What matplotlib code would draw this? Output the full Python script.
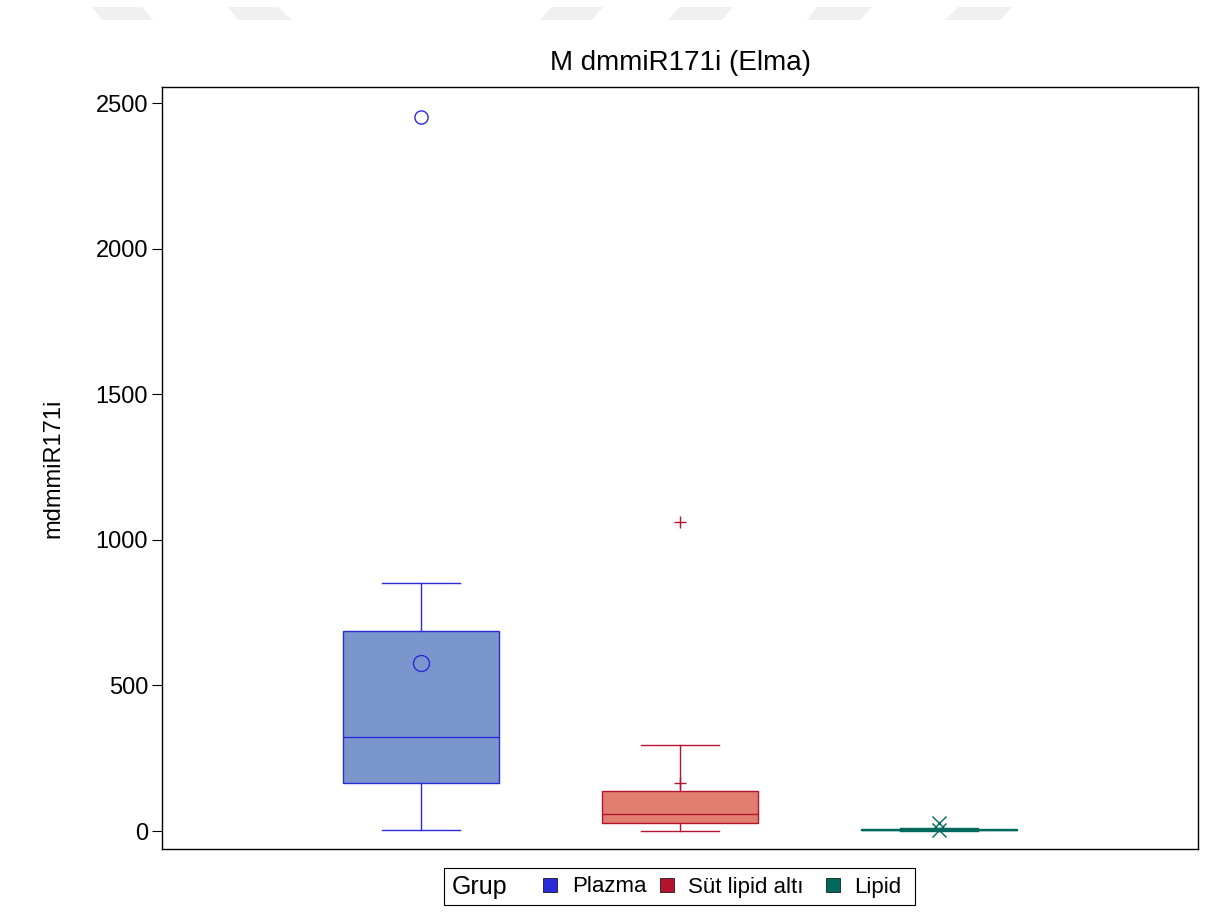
import matplotlib
matplotlib.use("Agg")
import matplotlib.pyplot as plt
from matplotlib.patches import Rectangle, Polygon

plt.rcParams['font.family'] = ['Liberation Sans Narrow', 'Liberation Sans', 'DejaVu Sans']

# Group summary statistics (box plot components)
groups = ["Plazma", "Süt lipid altı", "Lipid"]
q1 = [165, 27, 2]
median = [323, 58, 4]
q3 = [687, 137, 8]
whisker_low = [3, 0, 0]
whisker_high = [852, 295, 10]
means = [577, 165, 3]
outliers = [[2452], [1061], [26]]

edge_colors = ["#2B2BD9", "#B5142E", "#00695E"]
fill_colors = ["#7B96CC", "#E07F70", "#5FA89A"]
mean_markers = ["o", "+", "x"]

title_text = "M dmmiR171i (Elma)"
y_label = "mdmmiR171i"
y_ticks = [0, 500, 1000, 1500, 2000, 2500]
legend_title = "Grup"

fig = plt.figure(figsize=(12.19, 9.24), dpi=100)
W, H = 1219, 924

# faint watermark bands along the top edge
bands = [
    [(92, 7), (142, 7), (153, 20), (102, 20)],
    [(228, 7), (278, 7), (292, 20), (238, 20)],
    [(552, 7), (603, 7), (592, 20), (540, 20)],
    [(680, 7), (733, 7), (722, 20), (668, 20)],
    [(817, 7), (872, 7), (860, 20), (807, 20)],
    [(958, 7), (1012, 7), (1000, 20), (945, 20)],
]
for b in bands:
    fig.patches.append(Polygon([(x / W, 1 - y / H) for x, y in b], closed=True,
                               transform=fig.transFigure, facecolor="#F0F0F0",
                               edgecolor="none", zorder=0))

ax = fig.add_axes([162 / W, 1 - 849 / H, 1036 / W, 762 / H])

positions = [1, 2, 3]
for i, g in enumerate(groups):
    stats = [dict(label=g, q1=q1[i], med=median[i], q3=q3[i],
                  whislo=whisker_low[i], whishi=whisker_high[i],
                  mean=means[i], fliers=outliers[i])]
    ec = edge_colors[i]
    ms_mean = {"o": 11.5, "+": 9, "x": 10}[mean_markers[i]]
    ms_fl = {"o": 9.5, "+": 9, "x": 10}[mean_markers[i]]
    ax.bxp(stats, positions=[positions[i]], widths=0.6, patch_artist=True,
           showmeans=True, showcaps=True, showfliers=True,
           boxprops=dict(facecolor=fill_colors[i], edgecolor=ec, linewidth=1.0),
           medianprops=dict(color=ec, linewidth=1.0),
           whiskerprops=dict(color=ec, linewidth=1.0),
           capprops=dict(color=ec, linewidth=1.0),
           capwidths=0.3,
           meanprops=dict(marker=mean_markers[i], markerfacecolor="none",
                          markeredgecolor=ec, markersize=ms_mean,
                          markeredgewidth=1.0, linestyle="none"),
           flierprops=dict(marker=mean_markers[i], markerfacecolor="none",
                           markeredgecolor=ec, markersize=ms_fl,
                           markeredgewidth=1.0, linestyle="none"))

ax.set_xlim(0, 4)
ax.set_ylim(-61.8, 2555)
ax.set_xticks([])
ax.set_yticks(y_ticks)
ax.set_yticklabels([str(t) for t in y_ticks])
ax.tick_params(axis="y", direction="out", length=7, width=0.8, pad=3,
               labelsize=17, colors="black")
for s in ax.spines.values():
    s.set_linewidth(1.0)
    s.set_color("black")

ax.set_title(title_text, fontsize=20, pad=12)
ax.set_ylabel(y_label, fontsize=17)
ax.yaxis.set_label_coords(-0.094, 0.5)

# legend strip below the plot
fig.patches.append(Rectangle((444 / W, 1 - 905 / H), (915 - 444) / W, (905 - 868) / H,
                             transform=fig.transFigure, facecolor="white",
                             edgecolor="black", linewidth=0.8))
ly = 1 - 887 / H
fig.text(452 / W, ly, legend_title, fontsize=18, va="center", ha="left")
legend_x = [(543, 572), (660, 688), (826, 854)]
for (sx, tx), g, c in zip(legend_x, groups, edge_colors):
    fig.patches.append(Rectangle((sx / W, 1 - 892 / H), 14 / W, 14 / H,
                                 transform=fig.transFigure, facecolor=c,
                                 edgecolor="black", linewidth=0.5))
    fig.text(tx / W, ly, g, fontsize=16, va="center", ha="left")

fig.savefig("out.png", dpi=100)
